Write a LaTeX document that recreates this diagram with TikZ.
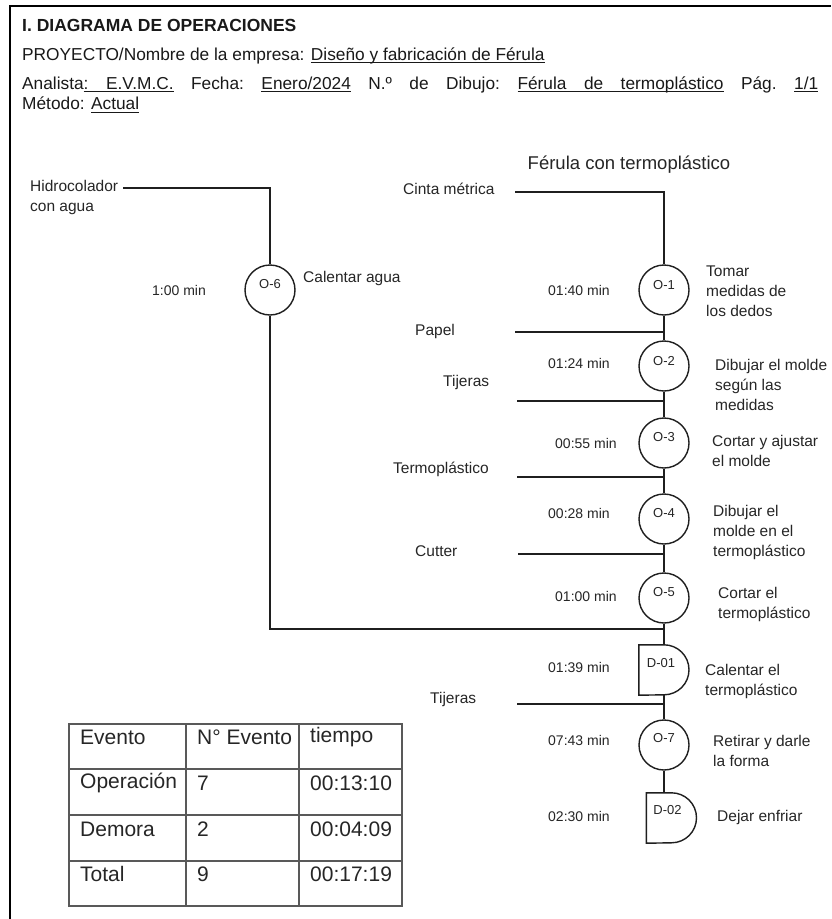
\documentclass[tikz,border=0pt]{standalone}
\usepackage{fontspec}
\setmainfont{Liberation Sans}
\newcommand\myul[1]{\setbox0\hbox{#1}\rlap{\rule[-2.8pt]{\wd0}{0.9pt}}\box0}
\newcommand\gsp{\hskip 0.278em plus 1fil\relax}
\newcommand\ugsp{\leaders\hrule height -1.9pt depth 2.8pt\hskip 0.278em plus 1fil\relax}
\begin{document}
\begin{tikzpicture}[x=1pt,y=-1pt,
  ln/.style={line width=1.4pt, draw=black!88},
  opc/.style={circle, draw=black!88, line width=1.4pt, minimum size=50pt, inner sep=0pt},
  dly/.style={rectangle, minimum width=50pt, minimum height=50pt, inner sep=0pt},
  idl/.style={font=\fontsize{13}{15}\selectfont, inner sep=0pt, text=black!85},
  lbl/.style={font=\fontsize{15.5}{20}\selectfont, inner sep=0pt, align=left, anchor=west, text=black!85},
  tm/.style={font=\fontsize{14}{16}\selectfont, inner sep=0pt, anchor=west, text=black!85},
  hdr/.style={font=\fontsize{17.3}{20}\selectfont, inner sep=0pt, anchor=west, text=black!90},
  tbl/.style={font=\fontsize{21}{24}\selectfont, inner sep=0pt, anchor=west, text=black!85},
  tline/.style={line width=1.2pt, draw=black!65}]
\useasboundingbox (0,0) rectangle (831,919);
\fill[white] (0,0) rectangle (831,919);
\draw[line width=2pt] (10,919) -- (10,6) -- (831,6);

% header
\node[hdr, font=\fontsize{17.5}{20}\bfseries] (title) at (22,25) {I. DIAGRAMA DE OPERACIONES};
\node[hdr] (proy) at (22,56) {PROYECTO/Nombre de la empresa: \myul{Diseño y fabricación de Férula}};
\node[hdr] (anal) at (22,85) {\hbox to 796pt{Analista\myul{:}\ugsp\myul{E.V.M.C.}\gsp Fecha:\gsp\myul{Enero/2024}\gsp N.º\gsp de\gsp Dibujo:\gsp\myul{Férula}\ugsp\myul{de}\ugsp\myul{termoplástico}\gsp Pág.\gsp\myul{1/1}}};
\node[hdr] (met) at (22,105) {Método: \myul{Actual}};

\node[font=\fontsize{18.5}{20}\selectfont, inner sep=0pt, text=black!85] (tit2) at (629,165) {Férula con termoplástico};

% O-6 branch
\node[lbl] (hidrot) at (30,197) {Hidrocolador\\con agua};
\coordinate (hidro) at (123,188);
\node[opc] (o6) at (270,290) {};
\node[idl] at ([yshift=6pt]o6.center) {O-6};
\node[lbl] at (303,278) {Calentar agua};
\node[tm] at (152,290) {1:00 min};

% main column
\node[opc] (o1) at (664,290) {};
\node[opc] (o2) at (664,366) {};
\node[opc] (o3) at (664,443) {};
\node[opc] (o4) at (664,519) {};
\node[opc] (o5) at (664,598) {};
\node[dly] (d1) at (664,670) {};
\node[opc] (o7) at (664,745) {};
\node[dly] (d2) at (671.5,818) {};
\draw[ln] (d1.north west) -- (d1.north) arc[start angle=90, end angle=-90, radius=25pt] -- (d1.south west) -- cycle;
\draw[ln] (d2.north west) -- (d2.north) arc[start angle=90, end angle=-90, radius=25pt] -- (d2.south west) -- cycle;

\node[idl] at ([yshift=5pt]o1.center) {O-1};
\node[idl] at ([yshift=5pt]o2.center) {O-2};
\node[idl] at ([yshift=6pt]o3.center) {O-3};
\node[idl] at ([yshift=6pt]o4.center) {O-4};
\node[idl] at ([yshift=6pt]o5.center) {O-5};
\node[idl] at ([xshift=-3pt,yshift=7pt]d1.center) {D-01};
\node[idl] at ([yshift=7pt]o7.center) {O-7};
\node[idl] at ([xshift=-4pt,yshift=8pt]d2.center) {D-02};

% times
\node[tm] at (548,290) {01:40 min};
\node[tm] at (548,363) {01:24 min};
\node[tm] at (555,443) {00:55 min};
\node[tm] at (548,513) {00:28 min};
\node[tm] at (555,596) {01:00 min};
\node[tm] at (548,667) {01:39 min};
\node[tm] at (548,740) {07:43 min};
\node[tm] at (548,816) {02:30 min};

% descriptions
\node[lbl] at (706,291) {Tomar\\medidas de\\los dedos};
\node[lbl] at (715,385) {Dibujar el molde\\según las\\medidas};
\node[lbl] at (712,451) {Cortar y ajustar\\el molde};
\node[lbl] at (713,532) {Dibujar el\\molde en el\\termoplástico};
\node[lbl] at (718,604) {Cortar el\\termoplástico};
\node[lbl] at (705,681.5) {Calentar el\\termoplástico};
\node[lbl] at (713,750.5) {Retirar y darle\\la forma};
\node[lbl] at (717,817) {Dejar enfriar};

% inputs
\node[lbl] (cintat) at (403,189) {Cinta métrica};
\coordinate (cinta) at (515,192);
\node[lbl] (papelt) at (415,331) {Papel};
\coordinate (papel) at (515,332);
\node[lbl] (tij1t) at (443,382) {Tijeras};
\coordinate (tij1) at (517,401);
\node[lbl, anchor=east] (termot) at (489,469) {Termoplástico};
\coordinate (termo) at (517,477);
\node[lbl] (cuttert) at (415,551) {Cutter};
\coordinate (cutter) at (518,554);
\node[lbl] (tij2t) at (430,699) {Tijeras};
\coordinate (tij2) at (517,704);
\coordinate (ret) at (664,629);

% connectors
\draw[ln] (cinta) -| (o1.north);
\draw[ln] (o1.south) -- (o2.north);
\draw[ln] (o2.south) -- (o3.north);
\draw[ln] (o3.south) -- (o4.north);
\draw[ln] (o4.south) -- (o5.north);
\draw[ln] (o5.south) -- (d1.north);
\draw[ln] (d1.south) -- (o7.north);
\draw[ln] (o7.south) -- (o7.south |- d2.north);
\draw[ln] (papel) -- (papel -| o1.center);
\draw[ln] (tij1) -- (tij1 -| o1.center);
\draw[ln] (termo) -- (termo -| o1.center);
\draw[ln] (cutter) -- (cutter -| o1.center);
\draw[ln] (tij2) -- (tij2 -| o1.center);
\draw[ln] (hidro) -| (o6.north);
\draw[ln] (o6.south) |- (ret);

% table
\draw[tline] (69,724) rectangle (402,906);
\draw[tline] (69,769) -- (402,769);
\draw[tline] (69,815) -- (402,815);
\draw[tline] (69,861) -- (402,861);
\draw[tline] (186,724) -- (186,906);
\draw[tline] (299,724) -- (299,906);
\node[tbl] (t11) at (80,737) {Evento};
\node[tbl] (t12) at (197,737) {N° Evento};
\node[tbl] (t13) at (310,737) {tiempo};
\node[tbl] (t21) at (80,783) {Operación};
\node[tbl] (t22) at (197,783) {7};
\node[tbl] (t23) at (310,783) {00:13:10};
\node[tbl] (t31) at (80,829) {Demora};
\node[tbl] (t32) at (197,829) {2};
\node[tbl] (t33) at (310,829) {00:04:09};
\node[tbl] (t41) at (80,874) {Total};
\node[tbl] (t42) at (197,874) {9};
\node[tbl] (t43) at (310,874) {00:17:19};
\end{tikzpicture}
\end{document}
